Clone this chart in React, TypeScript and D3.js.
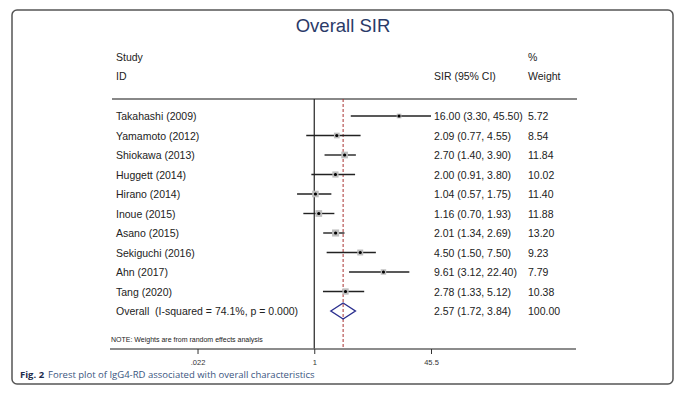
import React, { useEffect, useRef } from "react";
import * as d3 from "d3";

const studies = [
  "Takahashi (2009)",
  "Yamamoto (2012)",
  "Shiokawa (2013)",
  "Huggett (2014)",
  "Hirano (2014)",
  "Inoue (2015)",
  "Asano (2015)",
  "Sekiguchi (2016)",
  "Ahn (2017)",
  "Tang (2020)",
];
const sir = [16.0, 2.09, 2.7, 2.0, 1.04, 1.16, 2.01, 4.5, 9.61, 2.78];
const lower = [3.3, 0.77, 1.4, 0.91, 0.57, 0.7, 1.34, 1.5, 3.12, 1.33];
const upper = [45.5, 4.55, 3.9, 3.8, 1.75, 1.93, 2.69, 7.5, 22.4, 5.12];
const weights = [5.72, 8.54, 11.84, 10.02, 11.4, 11.88, 13.2, 9.23, 7.79, 10.38];

const overallLabel = "Overall  (I-squared = 74.1%, p = 0.000)";
const overall = { est: 2.57, lo: 1.72, hi: 3.84, weight: 100.0 };

const tickValues = [0.022, 1, 45.5];
const tickLabels = [".022", "1", "45.5"];

const App = () => {
  const svgRef = useRef(null);

  useEffect(() => {
    const root = d3.select(svgRef.current);
    root.selectAll("*").remove();

    const font = "Arial, 'Liberation Sans', sans-serif";
    const svg = root.append("g").attr("font-family", font);

    // frame
    svg
      .append("rect")
      .attr("x", 12)
      .attr("y", 10)
      .attr("width", 661)
      .attr("height", 374)
      .attr("rx", 5)
      .attr("fill", "none")
      .attr("stroke", "#555")
      .attr("stroke-width", 1.5);

    // scales
    const x = d3.scaleLog().domain([1 / 45.5, 45.5]).range([197.5, 431]);
    const y = d3.scaleLinear().domain([0, studies.length]).range([116, 311]);

    const top = 99;
    const axisY = 349;

    // title
    svg
      .append("text")
      .attr("x", 343)
      .attr("y", 32)
      .attr("text-anchor", "middle")
      .attr("font-size", 18.5)
      .attr("fill", "#2a3a68")
      .text("Overall SIR");

    // headers
    const header = (tx, ty, t) =>
      svg
        .append("text")
        .attr("x", tx)
        .attr("y", ty)
        .attr("font-size", 10.5)
        .attr("fill", "#222")
        .text(t);
    header(116, 61, "Study");
    header(116, 80, "ID");
    header(434, 80, "SIR (95% CI)");
    header(528, 61, "%");
    header(528, 80, "Weight");

    svg
      .append("line")
      .attr("x1", 112)
      .attr("x2", 577)
      .attr("y1", top)
      .attr("y2", top)
      .attr("stroke", "#888")
      .attr("stroke-width", 2);

    // null line and overall line
    svg
      .append("line")
      .attr("x1", x(1))
      .attr("x2", x(1))
      .attr("y1", top)
      .attr("y2", axisY)
      .attr("stroke", "#222")
      .attr("stroke-width", 1.2);

    svg
      .append("line")
      .attr("x1", x(overall.est))
      .attr("x2", x(overall.est))
      .attr("y1", top)
      .attr("y2", axisY)
      .attr("stroke", "#a83232")
      .attr("stroke-width", 1)
      .attr("stroke-dasharray", "3,2");

    // study rows
    const rows = svg
      .selectAll("g.row")
      .data(studies)
      .join("g")
      .attr("class", "row")
      .attr("transform", (d, i) => `translate(0,${y(i)})`);

    rows
      .append("text")
      .attr("x", 116)
      .attr("y", 4)
      .attr("font-size", 10.5)
      .attr("fill", "#222")
      .text((d) => d);

    rows
      .append("line")
      .attr("x1", (d, i) => x(lower[i]))
      .attr("x2", (d, i) => x(upper[i]))
      .attr("stroke", "#222")
      .attr("stroke-width", 1.4);

    rows
      .append("rect")
      .attr("x", (d, i) => x(sir[i]) - (1.95 * Math.sqrt(weights[i])) / 2)
      .attr("y", (d, i) => -(1.95 * Math.sqrt(weights[i])) / 2)
      .attr("width", (d, i) => 1.95 * Math.sqrt(weights[i]))
      .attr("height", (d, i) => 1.95 * Math.sqrt(weights[i]))
      .attr("fill", "#bdbdbd");

    rows
      .append("circle")
      .attr("cx", (d, i) => x(sir[i]))
      .attr("r", 1.6)
      .attr("fill", "#000");

    const ciText = rows
      .append("text")
      .attr("x", 434)
      .attr("y", 4)
      .attr("font-size", 10.5)
      .attr("fill", "#222")
      .text(
        (d, i) =>
          `${sir[i].toFixed(2)} (${lower[i].toFixed(2)}, ${upper[i].toFixed(2)})`,
      );

    // weight column; pushed right when the CI text is too long
    rows
      .append("text")
      .attr("y", 4)
      .attr("font-size", 10.5)
      .attr("fill", "#222")
      .attr("x", function (d, i) {
        const bb = ciText.nodes()[i].getBBox();
        return Math.max(528, bb.x + bb.width + 3);
      })
      .text((d, i) => weights[i].toFixed(2));

    // overall row
    const oy = y(studies.length);
    svg
      .append("text")
      .attr("x", 116)
      .attr("y", oy + 4)
      .attr("font-size", 10.5)
      .attr("fill", "#222")
      .style("white-space", "pre")
      .text(overallLabel);

    svg
      .append("path")
      .attr(
        "d",
        `M${x(overall.lo)},${oy} L${x(overall.est)},${oy - 8} L${x(overall.hi)},${oy} L${x(overall.est)},${oy + 8} Z`,
      )
      .attr("fill", "none")
      .attr("stroke", "#2b2f8f")
      .attr("stroke-width", 1.4);

    svg
      .append("text")
      .attr("x", 434)
      .attr("y", oy + 4)
      .attr("font-size", 10.5)
      .attr("fill", "#222")
      .text(
        `${overall.est.toFixed(2)} (${overall.lo.toFixed(2)}, ${overall.hi.toFixed(2)})`,
      );
    svg
      .append("text")
      .attr("x", 528)
      .attr("y", oy + 4)
      .attr("font-size", 10.5)
      .attr("fill", "#222")
      .text(overall.weight.toFixed(2));

    // note
    svg
      .append("text")
      .attr("x", 111)
      .attr("y", 342)
      .attr("font-size", 7)
      .attr("fill", "#222")
      .text("NOTE: Weights are from random effects analysis");

    // axis
    svg
      .append("line")
      .attr("x1", 110)
      .attr("x2", 576)
      .attr("y1", axisY)
      .attr("y2", axisY)
      .attr("stroke", "#666")
      .attr("stroke-width", 1.5);

    const axis = d3
      .axisBottom(x)
      .tickValues(tickValues)
      .tickSize(5)
      .tickPadding(6)
      .tickFormat((d, i) => tickLabels[i]);

    svg
      .append("g")
      .attr("transform", `translate(0,${axisY})`)
      .call(axis)
      .call((g) => g.select(".domain").remove())
      .call((g) => g.selectAll(".tick line").attr("stroke", "#333"))
      .call((g) =>
        g
          .selectAll(".tick text")
          .attr("fill", "#333")
          .attr("font-size", 7.5)
          .attr("font-family", font),
      );

    // caption
    const cap = svg
      .append("text")
      .attr("x", 20)
      .attr("y", 378)
      .attr("font-family", "'Open Sans', sans-serif")
      .attr("font-size", 9.5);
    cap
      .append("tspan")
      .attr("font-weight", "bold")
      .attr("fill", "#1d2c4c")
      .text("Fig. 2");
    cap
      .append("tspan")
      .attr("fill", "#3a5580")
      .attr("dx", 4)
      .text("Forest plot of IgG4-RD associated with overall characteristics");
  }, []);

  return (
    <svg
      ref={svgRef}
      width={686}
      height={395}
      style={{ position: "absolute", left: 0, top: 0, background: "#fff" }}
    />
  );
};

export default App;
